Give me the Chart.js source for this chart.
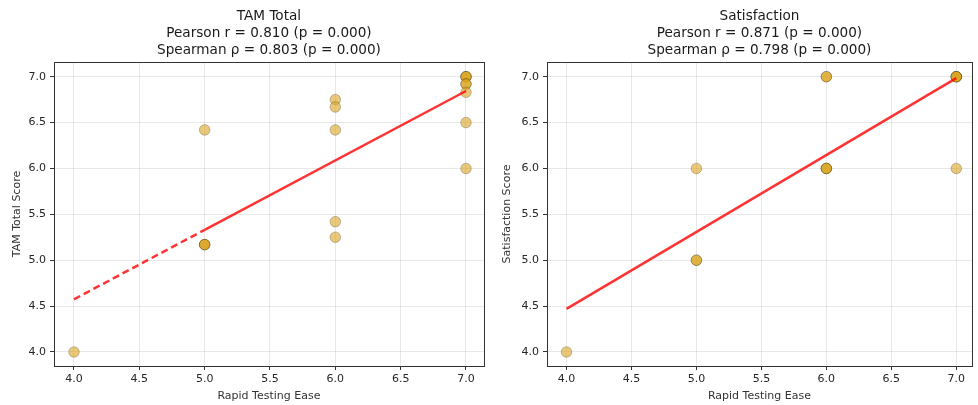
<!DOCTYPE html>
<html>
<head>
<meta charset="utf-8">
<script src="https://cdn.jsdelivr.net/npm/chart.js@4.4.0/dist/chart.umd.min.js"></script>
<style>
  body { margin: 0; background: #fff; }
  #wrap { position: relative; width: 978px; height: 405px; }
  .panel { position: absolute; top: 0; height: 405px; }
</style>
</head>
<body>
<div id="wrap">
  <div class="panel" style="left:0;width:490px"><canvas id="tam"></canvas></div>
  <div class="panel" style="left:490px;width:488px"><canvas id="sat"></canvas></div>
</div>
<script>
// Data
const tickValues = [4.0, 4.5, 5.0, 5.5, 6.0, 6.5, 7.0];

const tamX = [4, 5, 5, 5, 5, 6, 6, 6, 6, 6, 7, 7, 7, 7, 7, 7, 7, 7];
const tamY = [4.0, 6.42, 5.17, 5.17, 5.17, 6.75, 6.67, 6.42, 5.42, 5.25, 7.0, 7.0, 7.0, 6.92, 6.92, 6.83, 6.5, 6.0];
const tamFitX = [4, 5, 7];
const tamFitY = [4.574, 5.331, 6.844];

const satX = [4, 5, 5, 5, 6, 6, 6, 6, 6, 7, 7, 7, 7, 7];
const satY = [4, 6, 5, 5, 7, 7, 6, 6, 6, 7, 7, 7, 7, 6];
const satFitX = [4, 7];
const satFitY = [4.47, 6.985];

const tamTitle = ["TAM Total", "Pearson r = 0.810 (p = 0.000)", "Spearman \u03c1 = 0.803 (p = 0.000)"];
const satTitle = ["Satisfaction", "Pearson r = 0.871 (p = 0.000)", "Spearman \u03c1 = 0.798 (p = 0.000)"];

Chart.defaults.font.family = "'DejaVu Sans', sans-serif";
Chart.defaults.font.size = 11;
Chart.defaults.color = "#262626";

function toPoints(xs, ys) {
    return xs.map((x, i) => ({ x: x, y: ys[i] }));
}

// title lines centred over the axes, plus the full frame
const framePlugin = {
    id: "frame",
    afterDraw(chart, args, opts) {
        const c = chart.ctx;
        const a = chart.chartArea;
        c.save();
        c.strokeStyle = "#333";
        c.lineWidth = 1;
        c.strokeRect(Math.round(a.left) + 0.5, Math.round(a.top) + 0.5,
                     Math.round(a.right - a.left), Math.round(a.bottom - a.top));
        c.fillStyle = "#1a1a1a";
        c.font = "13.6px 'DejaVu Sans', sans-serif";
        c.textAlign = "center";
        c.textBaseline = "middle";
        const cx = (a.left + a.right) / 2;
        opts.lines.forEach((t, i) => c.fillText(t, cx, 16.5 + i * 17));
        c.restore();
    }
};

function makeChart(id, xs, ys, fitX, fitY, title, yLabel, yWidth, padRight, xMin, xMax, dashFirst) {
    const ctx = document.getElementById(id).getContext("2d");
    return new Chart(ctx, {
        data: {
            datasets: [{
                type: "line",
                data: toPoints(fitX, fitY),
                borderColor: "rgba(255,0,0,0.8)",
                borderWidth: 2.5,
                pointRadius: 0,
                fill: false,
                segment: {
                    borderDash: c => (dashFirst && c.p0DataIndex === 0) ? [7, 4] : undefined
                }
            }, {
                type: "scatter",
                data: toPoints(xs, ys),
                backgroundColor: "rgba(218,165,32,0.6)",
                borderColor: "rgba(0,0,0,0.28)",
                borderWidth: 0.8,
                pointRadius: 5.3,
                pointHoverRadius: 5.3
            }]
        },
        options: {
            responsive: true,
            maintainAspectRatio: false,
            animation: false,
            layout: { padding: { top: 62, right: padRight, left: 0, bottom: 0 } },
            plugins: {
                legend: { display: false },
                title: { display: false },
                tooltip: { enabled: false },
                frame: { lines: title }
            },
            scales: {
                x: {
                    type: "linear",
                    min: xMin,
                    max: xMax,
                    afterBuildTicks: s => { s.ticks = tickValues.map(v => ({ value: v })); },
                    afterFit: s => { s.height = 39; },
                    ticks: { callback: v => v.toFixed(1), padding: 3, maxRotation: 0 },
                    grid: { color: "rgba(0,0,0,0.09)", tickColor: "#333", tickLength: 4 },
                    border: { display: false },
                    title: { display: true, text: "Rapid Testing Ease", color: "#333", padding: { top: 0, bottom: 2 } }
                },
                y: {
                    type: "linear",
                    min: 3.847,
                    max: 7.16,
                    afterBuildTicks: s => { s.ticks = tickValues.map(v => ({ value: v })); },
                    afterFit: s => { s.width = yWidth; },
                    ticks: { callback: v => v.toFixed(1), padding: 4 },
                    grid: { color: "rgba(0,0,0,0.09)", tickColor: "#333", tickLength: 4 },
                    border: { display: false },
                    title: { display: true, text: yLabel, color: "#333", padding: { top: 11, bottom: 0 } }
                }
            }
        },
        plugins: [framePlugin]
    });
}

makeChart("tam", tamX, tamY, tamFitX, tamFitY, tamTitle, "TAM Total Score", 54, 5, 3.847, 7.137, true);
makeChart("sat", satX, satY, satFitX, satFitY, satTitle, "Satisfaction Score", 57, 4, 3.85, 7.12, false);
</script>
</body>
</html>
